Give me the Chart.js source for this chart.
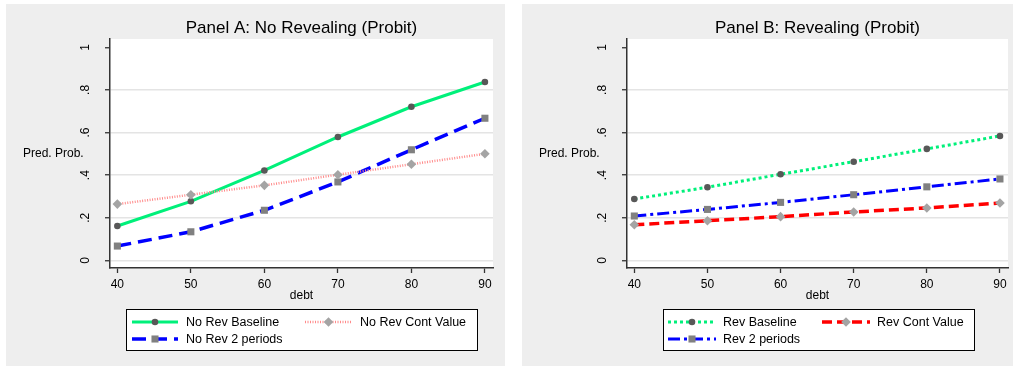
<!DOCTYPE html>
<html>
<head>
  <meta charset="utf-8">
  <title>Predicted probability by debt (Probit)</title>
  <script src="https://cdn.jsdelivr.net/npm/chart.js"></script>
  <style>
    body {
      margin: 0;
      background: #ffffff;
      font-family: "Liberation Sans", Arial, sans-serif;
    }
    /* each panel is its own canvas on the grey graph region */
    .panel {
      position: absolute;
      top: 4px;
      background: #eeeeee;
    }
    #chartA { left: 6px; }
    #chartB { left: 522px; }
  </style>
</head>
<body>
  <canvas id="chartA" class="panel" width="499" height="362"></canvas>
  <canvas id="chartB" class="panel" width="491" height="362"></canvas>

  <script>
    // x values and axis ticks
    const debt = [40, 50, 60, 70, 80, 90];
    const yTicks = [0, 0.2, 0.4, 0.6, 0.8, 1];
    const yTickLabels = ['0', '.2', '.4', '.6', '.8', '1'];

    // Panel A: No Revealing
    const noRevBaseline = [0.161, 0.277, 0.422, 0.579, 0.721, 0.837];
    const noRevContValue = [0.264, 0.308, 0.352, 0.402, 0.451, 0.500];
    const noRev2Periods = [0.067, 0.134, 0.235, 0.368, 0.519, 0.667];

    // Panel B: Revealing
    const revBaseline = [0.288, 0.343, 0.404, 0.463, 0.523, 0.584];
    const revContValue = [0.167, 0.186, 0.205, 0.227, 0.246, 0.269];
    const rev2Periods = [0.208, 0.239, 0.272, 0.308, 0.345, 0.382];

    Chart.defaults.font.family = '"Liberation Sans", Arial, sans-serif';
    Chart.defaults.color = '#000';

    const toXY = vals => debt.map((d, i) => ({ x: d, y: vals[i] }));

    // white plot region, horizontal "Pred. Prob." label and the boxed legend
    const stataPlugin = {
      id: 'stata',
      beforeDraw(chart) {
        const a = chart.chartArea;
        const ctx = chart.ctx;
        ctx.save();
        ctx.fillStyle = '#ffffff';
        ctx.fillRect(a.left, a.top, a.right - a.left, a.bottom - a.top);
        ctx.restore();
      },
      afterDraw(chart, args, opts) {
        const ctx = chart.ctx;
        ctx.save();
        ctx.font = '12px "Liberation Sans", Arial, sans-serif';
        ctx.fillStyle = '#000';
        ctx.textAlign = 'left';
        ctx.textBaseline = 'middle';
        ctx.fillText('Pred. Prob.', opts.yLabel[0], opts.yLabel[1]);

        // legend box
        const b = opts.box;
        ctx.fillStyle = '#ffffff';
        ctx.fillRect(b[0], b[1], b[2] - b[0], b[3] - b[1]);
        ctx.strokeStyle = '#000';
        ctx.lineWidth = 1;
        ctx.strokeRect(b[0] + 0.5, b[1] + 0.5, b[2] - b[0], b[3] - b[1]);

        opts.items.forEach(it => {
          const ds = chart.data.datasets[it.ds];
          const col = opts.cols[it.col];
          const y = opts.rows[it.row];
          ctx.save();
          ctx.strokeStyle = ds.borderColor;
          ctx.lineWidth = ds.borderWidth;
          ctx.setLineDash(ds.borderDash || []);
          ctx.beginPath();
          ctx.moveTo(col[0], y);
          ctx.lineTo(col[1], y);
          ctx.stroke();
          ctx.setLineDash([]);
          ctx.fillStyle = ds.pointBackgroundColor;
          Chart.helpers.drawPoint(ctx, {
            pointStyle: ds.pointStyle, radius: ds.pointRadius, rotation: 0, borderWidth: 0
          }, (col[0] + col[1]) / 2, y);
          ctx.restore();
          ctx.font = '12.5px "Liberation Sans", Arial, sans-serif';
          ctx.fillStyle = '#000';
          ctx.fillText(ds.label, col[2], y + 1);
        });
        ctx.restore();
      }
    };

    function makePanel(id, title, datasets, yWidth, rightPad, legendOpts) {
      return new Chart(document.getElementById(id), {
        type: 'line',
        data: { datasets: datasets },
        plugins: [stataPlugin],
        options: {
          responsive: false,
          animation: false,
          layout: { padding: { left: 0, right: rightPad, top: 0, bottom: 0 } },
          elements: { line: { tension: 0 } },
          plugins: {
            legend: { display: false },
            tooltip: { enabled: false },
            title: {
              display: true,
              text: title,
              fullSize: false,
              font: { size: 17, weight: 'normal' },
              color: '#000',
              padding: { top: 13.8, bottom: 0.8 }
            },
            stata: legendOpts
          },
          scales: {
            x: {
              type: 'linear',
              min: 39.0,
              max: 91.1,
              afterBuildTicks: s => { s.ticks = debt.map(v => ({ value: v })); },
              afterFit: s => { s.height = 98; },
              grid: { drawOnChartArea: false, drawTicks: true, tickLength: 5, tickColor: '#333', tickWidth: 1.3 },
              border: { display: true, color: '#333', width: 1.5 },
              ticks: { font: { size: 12 }, color: '#000', padding: 4, maxRotation: 0 },
              title: { display: true, text: 'debt', font: { size: 12 }, color: '#000', padding: { top: 0, bottom: 62.8 } }
            },
            y: {
              type: 'linear',
              min: -0.036,
              max: 1.039,
              afterBuildTicks: s => { s.ticks = yTicks.map(v => ({ value: v })); },
              afterFit: s => { s.width = yWidth; },
              grid: {
                color: c => (c.tick && c.tick.value === 1) ? 'rgba(0,0,0,0)' : '#e4e4e4',
                lineWidth: 1.5,
                tickLength: 5,
                tickColor: '#333',
                tickWidth: 1.3
              },
              border: { display: true, color: '#333', width: 1.5 },
              ticks: {
                font: { size: 12 },
                color: '#000',
                minRotation: 90,
                maxRotation: 90,
                crossAlign: 'center',
                padding: 14,
                callback: v => yTickLabels[yTicks.indexOf(v)]
              }
            }
          }
        }
      });
    }

    makePanel('chartA', 'Panel A: No Revealing (Probit)', [
      {
        label: 'No Rev Baseline', data: toXY(noRevBaseline),
        borderColor: '#00f07a', borderWidth: 3, borderDash: [],
        pointStyle: 'circle', pointRadius: 3.3, pointBackgroundColor: '#585858', pointBorderWidth: 0, order: 2
      },
      {
        label: 'No Rev Cont Value', data: toXY(noRevContValue),
        borderColor: '#ff8a8a', borderWidth: 2.5, borderDash: [1, 1.5],
        pointStyle: 'rectRot', pointRadius: 4.8, pointBackgroundColor: '#a4a4a4', pointBorderWidth: 0, order: 1
      },
      {
        label: 'No Rev 2 periods', data: toXY(noRev2Periods),
        borderColor: '#0000ff', borderWidth: 3.5, borderDash: [14, 7],
        pointStyle: 'rect', pointRadius: 5, pointBackgroundColor: '#808080', pointBorderWidth: 0, order: 3
      }
    ], 104, 12, {
      yLabel: [17, 150],
      box: [120, 305, 471, 346],
      cols: [[126, 172, 180], [299, 346, 354]],
      rows: [318, 335],
      items: [{ ds: 0, col: 0, row: 0 }, { ds: 1, col: 1, row: 0 }, { ds: 2, col: 0, row: 1 }]
    });

    makePanel('chartB', 'Panel B: Revealing (Probit)', [
      {
        label: 'Rev Baseline', data: toXY(revBaseline),
        borderColor: '#00f07a', borderWidth: 3, borderDash: [3, 3],
        pointStyle: 'circle', pointRadius: 3.3, pointBackgroundColor: '#585858', pointBorderWidth: 0
      },
      {
        label: 'Rev Cont Value', data: toXY(revContValue),
        borderColor: '#ff0000', borderWidth: 3.5, borderDash: [10, 5],
        pointStyle: 'rectRot', pointRadius: 4.8, pointBackgroundColor: '#a4a4a4', pointBorderWidth: 0
      },
      {
        label: 'Rev 2 periods', data: toXY(rev2Periods),
        borderColor: '#0000ff', borderWidth: 3, borderDash: [12, 4, 3, 4],
        pointStyle: 'rect', pointRadius: 5, pointBackgroundColor: '#808080', pointBorderWidth: 0
      }
    ], 105, 2, {
      yLabel: [17, 150],
      box: [141, 305, 452, 346],
      cols: [[146, 194, 201], [300, 348, 355]],
      rows: [318, 335],
      items: [{ ds: 0, col: 0, row: 0 }, { ds: 1, col: 1, row: 0 }, { ds: 2, col: 0, row: 1 }]
    });
  </script>
</body>
</html>
